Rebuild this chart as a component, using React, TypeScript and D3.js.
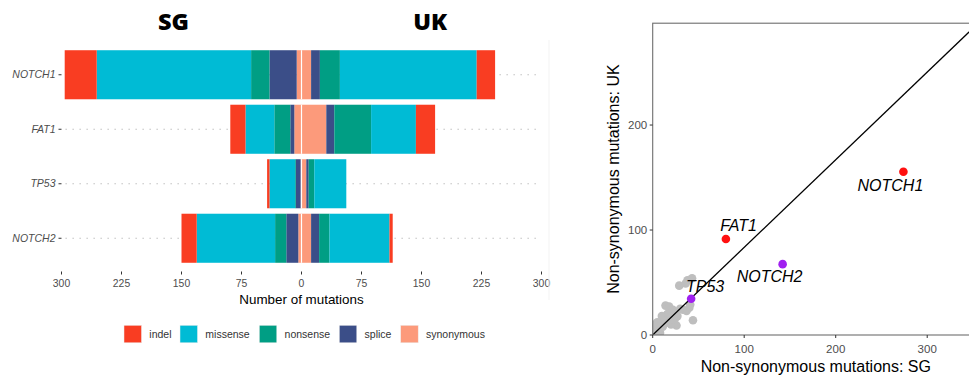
import React from "react";
import * as d3 from "d3";

// ---------- Diverging bar chart: mutation counts per gene ----------
const genes = ["NOTCH1", "FAT1", "TP53", "NOTCH2"];
// stacking order, from the centre line outwards
const mutationTypes = ["synonymous", "splice", "nonsense", "missense", "indel"];
const legendOrder = ["indel", "missense", "nonsense", "splice", "synonymous"];
const typeColors: Record<string, string> = {
  indel: "#F93D22",
  missense: "#00BBD5",
  nonsense: "#009E84",
  splice: "#3B4E88",
  synonymous: "#FC9A7B",
};

// SG cohort counts (gene order as in `genes`)
const sgSynonymous = [6, 9, 1, 4];
const sgSplice = [34, 5, 6, 15];
const sgNonsense = [23, 20, 1, 14];
const sgMissense = [193, 36, 32, 98];
const sgIndel = [40, 19, 3, 19];

// UK cohort counts
const ukSynonymous = [12, 31, 6, 12];
const ukSplice = [11, 10, 3, 10];
const ukNonsense = [25, 46, 7, 13];
const ukMissense = [171, 56, 40, 75];
const ukIndel = [23, 24, 0, 4];

const countTicks = [-300, -225, -150, -75, 0, 75, 150, 225, 300];

// ---------- Scatter: non-synonymous mutations SG vs UK ----------
const labelledGenes = ["NOTCH1", "FAT1", "NOTCH2", "TP53"];
const labelledSG = [274, 80, 142, 42];
const labelledUK = [155.5, 91.5, 67.5, 34.5];
const labelledColors = ["#FF1010", "#FF1010", "#A020F0", "#A020F0"];

const otherSG = [29, 38, 43, 36, 41, 37, 44, 40, 33, 14, 18, 22, 24, 27, 26, 20, 16, 10, 12, 6, 3, 8, 4, 1, 11, 15, 20, 24, 30, 7, 5, 18, 2];
const otherUK = [47, 52, 54, 49, 29, 23, 14, 26, 24, 28, 27, 24, 21, 18, 9, 19, 20, 18, 14, 11, 7, 2, 3, 1, 8, 12, 10, 15, 25, 5, 12, 14, 10];

const ratioSlope = 0.835;
const scatterTicksX = [0, 100, 200, 300];
const scatterTicksY = [0, 100, 200];

const FONT = "'Liberation Sans', Arial, Helvetica, sans-serif";

function buildRows(side: "sg" | "uk") {
  const src =
    side === "sg"
      ? { synonymous: sgSynonymous, splice: sgSplice, nonsense: sgNonsense, missense: sgMissense, indel: sgIndel }
      : { synonymous: ukSynonymous, splice: ukSplice, nonsense: ukNonsense, missense: ukMissense, indel: ukIndel };
  return genes.map((g, i) => {
    const row: Record<string, any> = { gene: g };
    mutationTypes.forEach((t) => (row[t] = (src as any)[t][i]));
    return row;
  });
}

export default function App() {
  // bar chart scales
  const x = d3.scaleLinear().domain([-300, 300]).range([61.5, 541.5]);
  const y = d3
    .scaleBand<string>()
    .domain(genes)
    .range([47.5, 265.5])
    .paddingInner(0.1)
    .paddingOuter(0.05);
  const stack = d3.stack<any>().keys(mutationTypes);
  const sgSeries = stack(buildRows("sg"));
  const ukSeries = stack(buildRows("uk"));

  // scatter scales
  const sx = d3.scaleLinear().domain([0, 346]).range([652.7, 969.3]);
  const sy = d3.scaleLinear().domain([0, 297]).range([335, 23.2]);
  const panelLeft = sx(0);
  const panelTop = sy(297);
  const panelBottom = sy(0);

  const labelOffsets: Record<string, [number, number]> = {
    NOTCH1: [-13, 19],
    FAT1: [12.6, -8.3],
    NOTCH2: [-13, 18.1],
    TP53: [14, -6.3],
  };

  const legendX = [124, 180, 259.3, 339.3, 400.7];

  const diag = d3
    .line<number>()
    .x((d) => sx(d))
    .y((d) => sy(d * ratioSlope));

  return (
    <svg
      width={969}
      height={375}
      style={{ position: "absolute", left: 0, top: 0, background: "#fff" }}
      fontFamily={FONT}
    >
      <rect x={0} y={0} width={969} height={375} fill="#fff" />

      {/* cohort titles */}
      <text x={x(-160)} y={30} textAnchor="middle" fontFamily="'Open Sans', sans-serif" fontWeight={800} fontSize={23.5} fill="#000">
        SG
      </text>
      <text x={x(161)} y={30} textAnchor="middle" fontFamily="'Open Sans', sans-serif" fontWeight={800} fontSize={23.5} fill="#000">
        UK
      </text>

      {/* dotted guide lines */}
      {genes.map((g) => (
        <line
          key={"guide" + g}
          x1={x(-300) + 4}
          x2={x(300)}
          y1={y(g)! + y.bandwidth() / 2}
          y2={y(g)! + y.bandwidth() / 2}
          stroke="#b8b8b8"
          strokeWidth={1.1}
          strokeDasharray="1.3 5.7"
        />
      ))}

      {/* SG bars, growing left */}
      {sgSeries.map((s) =>
        s.map((d: any) => (
          <rect
            key={"sg" + s.key + d.data.gene}
            x={x(-d[1])}
            width={x(-d[0]) - x(-d[1])}
            y={y(d.data.gene)}
            height={y.bandwidth()}
            fill={typeColors[s.key]}
          />
        ))
      )}
      {/* UK bars, growing right */}
      {ukSeries.map((s) =>
        s.map((d: any) => (
          <rect
            key={"uk" + s.key + d.data.gene}
            x={x(d[0])}
            width={x(d[1]) - x(d[0])}
            y={y(d.data.gene)}
            height={y.bandwidth()}
            fill={typeColors[s.key]}
          />
        ))
      )}
      {/* split between the two cohorts */}
      {genes.map((g) => (
        <line key={"split" + g} x1={x(0)} x2={x(0)} y1={y(g)!} y2={y(g)! + y.bandwidth()} stroke="#fff" strokeWidth={1.2} />
      ))}

      {/* gene axis */}
      {genes.map((g) => {
        const cy = y(g)! + y.bandwidth() / 2;
        return (
          <g key={"gl" + g}>
            <line x1={58.5} x2={61.5} y1={cy} y2={cy} stroke="#333" strokeWidth={1} />
            <text x={55.5} y={cy + 3.7} textAnchor="end" fontSize={10.5} fontStyle="italic" fill="#4d4d4d">
              {g}
            </text>
          </g>
        );
      })}

      {/* count axis */}
      {countTicks.map((t) => (
        <g key={"ct" + t}>
          <line x1={x(t)} x2={x(t)} y1={271.5} y2={274.5} stroke="#333" strokeWidth={1} />
          <text x={x(t)} y={286.5} textAnchor="middle" fontSize={10.4} fill="#4d4d4d">
            {Math.abs(t)}
          </text>
        </g>
      ))}
      <text x={x(0)} y={304} textAnchor="middle" fontSize={13.4} fill="#000">
        Number of mutations
      </text>

      <line x1={549} x2={549} y1={40} y2={300} stroke="#f3f3f3" strokeWidth={1} />

      {/* legend */}
      {legendOrder.map((t, i) => (
        <g key={"lg" + t}>
          <rect x={legendX[i]} y={325.3} width={17.5} height={17.5} fill={typeColors[t]} stroke="#eee" strokeWidth={0.5} />
          <text x={legendX[i] + 25.3} y={337.8} fontSize={10.5} fill="#333">
            {t}
          </text>
        </g>
      ))}

      {/* ---------- scatter ---------- */}
      <defs>
        <clipPath id="scatterPanel">
          <rect x={panelLeft} y={panelTop} width={400} height={panelBottom - panelTop} />
        </clipPath>
      </defs>
      <g clipPath="url(#scatterPanel)">
        {otherSG.map((v, i) => (
          <circle key={"o" + i} cx={sx(v)} cy={sy(otherUK[i])} r={4.3} fill="#BEBEBE" />
        ))}
        <path d={diag([0, 346]) || ""} stroke="#000" strokeWidth={1.3} fill="none" />
        {labelledGenes.map((g, i) => (
          <circle key={"h" + g} cx={sx(labelledSG[i])} cy={sy(labelledUK[i])} r={4.3} fill={labelledColors[i]} />
        ))}
      </g>
      {labelledGenes.map((g, i) => (
        <text
          key={"hl" + g}
          x={sx(labelledSG[i]) + labelOffsets[g][0]}
          y={sy(labelledUK[i]) + labelOffsets[g][1]}
          textAnchor="middle"
          fontSize={16}
          fontStyle="italic"
          fill="#000"
        >
          {g}
        </text>
      ))}
      <rect
        x={panelLeft}
        y={panelTop}
        width={400}
        height={panelBottom - panelTop}
        fill="none"
        stroke="#6e6e6e"
        strokeWidth={1.1}
      />
      {scatterTicksX.map((t) => (
        <g key={"sx" + t}>
          <line x1={sx(t)} x2={sx(t)} y1={panelBottom} y2={panelBottom + 3} stroke="#333" strokeWidth={1} />
          <text x={sx(t)} y={352.5} textAnchor="middle" fontSize={11.5} fill="#4d4d4d">
            {t}
          </text>
        </g>
      ))}
      {scatterTicksY.map((t) => (
        <g key={"sy" + t}>
          <line x1={panelLeft - 3} x2={panelLeft} y1={sy(t)} y2={sy(t)} stroke="#333" strokeWidth={1} />
          <text x={panelLeft - 5.5} y={sy(t) + 4.1} textAnchor="end" fontSize={11.5} fill="#4d4d4d">
            {t}
          </text>
        </g>
      ))}
      <text x={815.8} y={371.5} textAnchor="middle" fontSize={16} fill="#000">
        Non-synonymous mutations: SG
      </text>
      <text
        transform={`translate(619, ${(panelTop + panelBottom) / 2}) rotate(-90)`}
        textAnchor="middle"
        fontSize={16}
        fill="#000"
      >
        Non-synonymous mutations: UK
      </text>
    </svg>
  );
}
